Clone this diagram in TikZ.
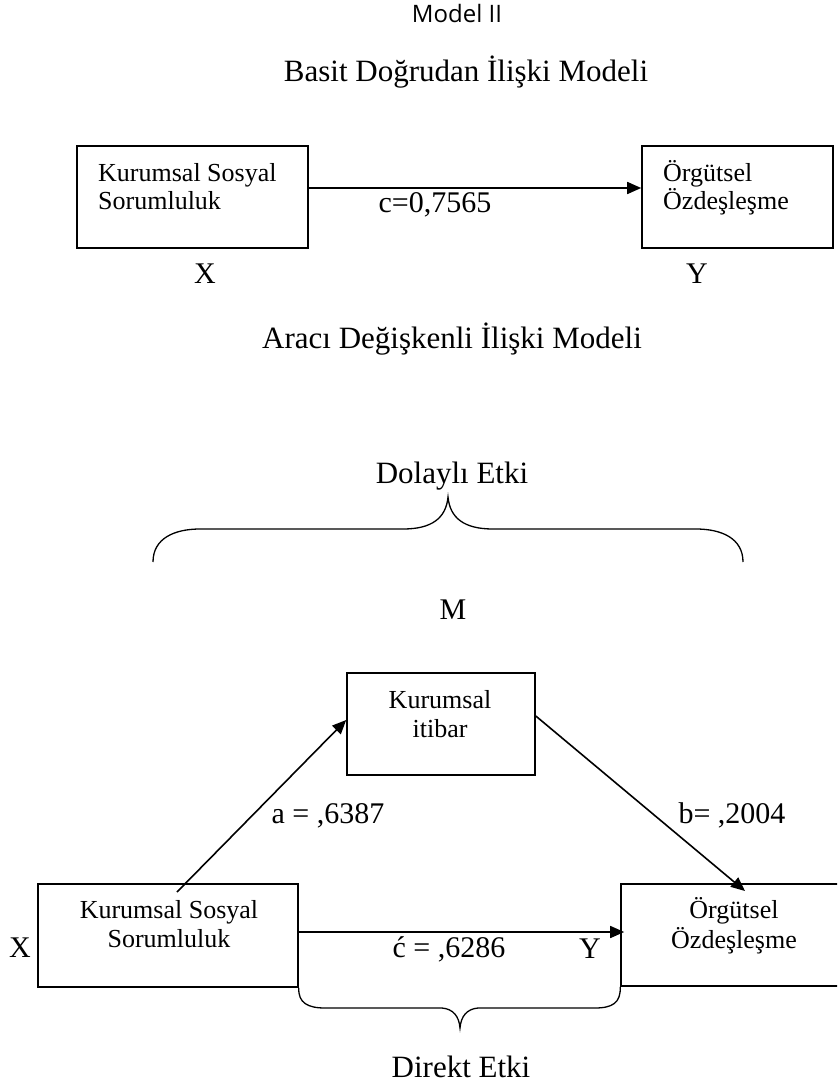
\documentclass[tikz,border=0pt]{standalone}
\usepackage{fontspec}
\setmainfont{Liberation Serif}
\newfontfamily\modelfont{Open Sans}
\usetikzlibrary{arrows.meta}
\begin{document}
\begin{tikzpicture}[x=1pt,y=-1pt,
  box/.style={draw, line width=1.6pt, inner sep=0pt},
  boxtxt/.style={font=\fontsize{26}{30}\selectfont, inner sep=0pt},
  lbl/.style={font=\fontsize{30}{34}\selectfont, inner sep=0pt, anchor=base},
  ttl/.style={font=\fontsize{31}{36}\selectfont, inner sep=0pt, anchor=base},
  arr/.style={line width=1.6pt, -{Triangle[length=14pt,width=12pt]}},
  bracestyle/.style={line width=1.3pt}]
\clip (0,0) rectangle (837,1083);
\fill[white] (0,0) rectangle (837,1083);

% titles
\node[font=\modelfont\fontsize{24}{28}\selectfont, inner sep=0pt, anchor=base] (model) at (457,23) {Model II};
\node[ttl] (t1) at (466,82) {Basit Doğrudan İlişki Modeli};
\node[ttl] (t2) at (452,348) {Aracı Değişkenli İlişki Modeli};

% --- simple model ---
\node[box, minimum width=231pt, minimum height=102pt] (ks1) at (192.5,197) {};
\node[box, minimum width=191pt, minimum height=102pt] (oz1) at (737.5,197) {};
\node[boxtxt, anchor=base west] (ks1a) at (98,182) {Kurumsal Sosyal};
\node[boxtxt, anchor=base west] (ks1b) at (98,210) {Sorumluluk};
\node[boxtxt, anchor=base west] (oz1a) at (663,182) {Örgütsel};
\node[boxtxt, anchor=base west] (oz1b) at (663,210) {Özdeşleşme};
\draw[arr] ([yshift=9pt]ks1.east) -- ([yshift=9pt]oz1.west);
\node[lbl] (c) at (435,213) {c=0,7565};
\node[lbl] (x1) at (205,283) {X};
\node[lbl] (y1) at (697,283) {Y};

% --- mediation model ---
\node[ttl] (dol) at (452,483) {Dolaylı Etki};
\draw[bracestyle] (153,562) .. controls (153,538) and (175,529) .. (200,529)
  -- (403,529) .. controls (432,529) and (446,518) .. (448,497)
  .. controls (450,518) and (464,529) .. (493,529)
  -- (696,529) .. controls (721,529) and (743,538) .. (743,562);
\node[lbl] (m) at (453,619) {M};

\node[box, minimum width=188pt, minimum height=102pt] (med) at (441,724) {};
\node[boxtxt, anchor=base] (meda) at (440,708) {Kurumsal};
\node[boxtxt, anchor=base] (medb) at (440,737) {itibar};

\node[box, minimum width=260pt, minimum height=103pt] (ks2) at (168,935.5) {};
\node[box, minimum width=226pt, minimum height=102pt] (oz2) at (734,935) {};
\node[boxtxt, anchor=base] (ks2a) at (169,918) {Kurumsal Sosyal};
\node[boxtxt, anchor=base] (ks2b) at (169,947) {Sorumluluk};
\node[boxtxt, anchor=base] (oz2a) at (734,918) {Örgütsel};
\node[boxtxt, anchor=base] (oz2b) at (734,948) {Özdeşleşme};

\coordinate (astart) at (177,892);
\coordinate (bend) at (745,891);
\draw[arr] (astart) -- ([yshift=4pt]med.west);
\draw[arr] ([yshift=8pt]med.east) -- (bend);
\draw[arr, shorten >=-4pt] ([yshift=3.5pt]ks2.east) -- ([yshift=3pt]oz2.west);

\node[lbl] (a) at (328,823) {a = ,6387};
\node[lbl] (b) at (732,823) {b= ,2004};
\node[lbl] (cp) at (449,957) {ć = ,6286};
\node[lbl] (y2) at (590,958) {Y};
\node[lbl] (x2) at (20,957) {X};

\draw[bracestyle] (ks2.south east) .. controls (298,1003) and (308,1008) .. (325,1008)
  -- (442,1008) .. controls (453,1009) and (459,1016) .. (460,1028)
  .. controls (461,1016) and (467,1009) .. (478,1008)
  -- (595,1008) .. controls (612,1008) and (621,1003) .. (oz2.south west);
\node[ttl] (dir) at (461,1077) {Direkt Etki};
\end{tikzpicture}
\end{document}
